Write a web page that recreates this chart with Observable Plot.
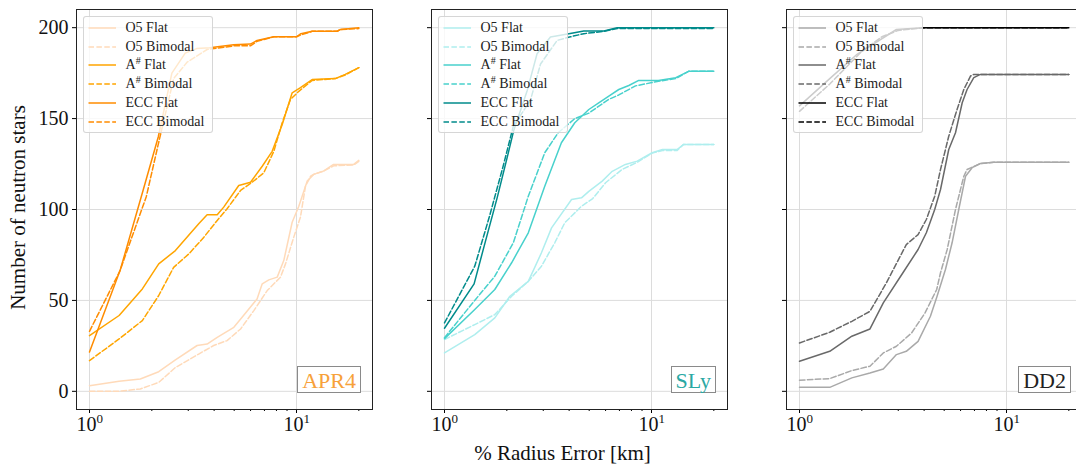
<!DOCTYPE html>
<html><head><meta charset="utf-8">
<script src="https://cdn.jsdelivr.net/npm/d3@7"></script>
<script src="https://cdn.jsdelivr.net/npm/@observablehq/plot@0.6"></script>
<style>
html,body{margin:0;padding:0;background:#fff;overflow:hidden;}
#wrap{position:relative;width:1076px;height:466px;overflow:hidden;font-family:"Liberation Serif","DejaVu Serif","Times New Roman",serif;background:#fff;}
#wrap svg text{font-family:"Liberation Serif","DejaVu Serif","Times New Roman",serif;}
.panel{position:absolute;top:0;}
.legend{position:absolute;width:130px;height:117px;box-sizing:border-box;background:rgba(255,255,255,0.8);border:1px solid rgba(204,204,204,0.8);border-radius:3px;font-size:14px;color:#222;}
.legend .row{position:absolute;left:0;width:128px;height:18px;}
.legend .row svg{position:absolute;left:0;top:0;}
.legend .row span{position:absolute;left:42px;top:0;line-height:18px;white-space:nowrap;}
.legend sup{font-size:10px;vertical-align:0;position:relative;top:-5px;}
.tag{position:absolute;top:366px;height:27px;line-height:28px;padding:0 4px;box-sizing:border-box;border:1px solid #8a8a8a;background:#fff;font-size:22px;white-space:nowrap;}
</style>
</head><body><div id="wrap"></div>
<script>
// ---------- data ----------
const xMajorTicks = [1, 10];
const xMajorExp = ["0", "1"];
const xMinorTicks = [2, 3, 4, 5, 6, 7, 8, 9, 20];
const yTicks = [0, 50, 100, 150, 200];
const eosNames = ["APR4", "SLy", "DD2"];
const seriesNames = ["O5 Flat", "O5 Bimodal", "A# Flat", "A# Bimodal", "ECC Flat", "ECC Bimodal"];
const yLabel = "Number of neutron stars";
const xLabel = "% Radius Error [km]";

// APR4 curves: [radius error %, number of stars]
const apr4_O5_flat = [[1,3.1],[1.39,5.5],[1.76,6.8],[2.16,10.8],[2.6,17.3],[3.31,25.2],[3.7,26],[4.14,29.7],[4.98,35.2],[5.46,40.7],[6.45,50.8],[6.83,59.1],[7.35,61.3],[8.07,62.8],[8.68,71.9],[9.53,93],[10.26,101.8],[11.26,115.6],[12.1,119.3],[13.5,121.1],[15.1,124.8],[18.9,124.8],[20,127]];
const apr4_O5_bimodal = [[1,0],[1.39,0],[1.76,1.3],[2.16,4.9],[2.6,13.1],[3.37,20.5],[3.98,25.2],[4.62,27.9],[5.37,34.3],[6.22,44.4],[7.22,55.4],[8.37,62.8],[8.85,70.1],[9.7,84.8],[10.45,95.8],[11.05,112.8],[11.7,118.3],[12.1,119.3],[13.5,121.1],[15.1,124],[18.9,124.5],[20,126.5]];
const apr4_A_flat = [[1,30.6],[1.39,41.7],[1.8,56.3],[2.16,70.1],[2.6,77.4],[3.37,92.1],[3.7,97.1],[4.14,97.1],[4.45,101.3],[5.26,113.2],[6,115],[6.83,123.8],[7.63,132],[8.53,146.8],[9.53,164.2],[10.45,167],[11.9,171.5],[15.4,172],[17.2,174.3],[20,178]];
const apr4_A_bimodal = [[1,16.9],[1.39,28.8],[1.8,38.9],[2.16,52.7],[2.55,68.2],[3.02,75.6],[3.57,84.8],[4.14,94],[4.62,100.4],[5.37,110.5],[6.11,115],[6.95,120.2],[7.77,132],[8.53,147.7],[9.35,160.5],[10.26,165],[11.9,171],[15.4,172],[17.2,174],[20,178]];
const apr4_ECC_flat = [[1,21.6],[1.41,67],[1.82,111],[2.15,140],[2.5,175],[2.9,186],[3.29,188.5],[3.81,189],[4.97,190.6],[5.99,191],[6.45,193],[7.77,195],[10,195],[10.5,196.7],[11.9,198],[15.7,198],[16.3,199],[20,200]];
const apr4_ECC_bimodal = [[1,33],[1.4,66],[1.88,107],[2.15,136],[2.55,172],[2.96,181],[3.7,188],[4.97,190],[5.99,190],[6.45,192.5],[7.77,195],[10,195],[10.5,196],[11.9,198],[15.7,198],[16.3,199],[20,199.5]];

// SLy curves
const sly_O5_flat = [[1,21.1],[1.4,31.2],[1.75,40.4],[2.07,52.3],[2.54,60.5],[2.94,76.2],[3.29,89.9],[4.11,105.5],[4.59,106.4],[4.98,110],[5.78,115.6],[6.46,121],[7.48,124.8],[8.53,126.6],[10.07,131.2],[11.3,133],[13.3,133],[14.3,135.8],[20,135.8]];
const sly_O5_bimodal = [[1,28.5],[1.4,36.7],[1.75,42.2],[2.11,52.3],[2.54,60.5],[2.94,68.8],[3.41,81.7],[3.81,92.7],[4.59,101.8],[5.2,106],[6,114.7],[7.2,122],[8.53,126],[10.07,131],[11.3,132.5],[13.3,132.5],[14.3,135.8],[20,135.8]];
const sly_A_flat = [[1,29],[1.4,45],[1.75,56],[2.11,70.7],[2.54,87.2],[3.05,112.8],[3.67,136.7],[4.26,147.7],[4.98,155],[5.56,158.7],[6.22,162.4],[6.95,166],[7.77,168.2],[8.68,171],[10.8,171],[13.1,172.5],[15.1,176],[20,176]];
const sly_A_bimodal = [[1,29.5],[1.4,50],[1.75,63.3],[2.15,81.7],[2.54,107.3],[3.05,131.2],[3.54,142.2],[4.26,150],[4.98,153],[6.22,160.6],[6.95,163],[8.37,168],[10.8,170.5],[13.1,172],[15.1,176],[20,176]];
const sly_ECC_flat = [[1,34.7],[1.39,59.1],[1.58,82.9],[1.8,106.8],[2.01,128.8],[2.16,143.5],[2.51,165.5],[2.8,185.7],[3.25,194.9],[3.99,196.7],[4.71,198.2],[5.89,198.2],[6.83,200],[20,200]];
const sly_ECC_bimodal = [[1,37.6],[1.4,68.8],[1.65,96.3],[1.92,123.8],[2.15,145.8],[2.6,160],[2.91,180],[3.5,193],[4.06,195],[4.71,196.7],[5.89,198],[6.83,199.5],[20,199.5]];

// DD2 curves
const dd2_O5_flat = [[1,2.2],[1.4,2.2],[1.79,7.4],[2.19,10.1],[2.54,12.3],[2.94,20.2],[3.28,22],[3.74,27.5],[4.29,41.3],[4.62,52.3],[5.07,67],[5.46,81.7],[5.88,100],[6.34,118.3],[6.82,123],[7.48,125.3],[8.68,126],[20,126]];
const dd2_O5_bimodal = [[1,6.1],[1.4,7],[1.79,11.4],[2.19,13.8],[2.54,21.1],[2.94,24.8],[3.48,32.1],[4.04,43.1],[4.6,56],[4.8,65.2],[5.17,78],[5.67,100],[6.22,118.3],[6.45,122],[7.48,125.3],[8.68,126],[20,126]];
const dd2_A_flat = [[1,16.5],[1.4,22],[1.79,30.3],[2.19,34.3],[2.54,48.6],[3.16,65.2],[3.74,78],[4.1,87.2],[4.5,100],[4.8,111],[5.26,133],[5.67,142.2],[6.11,158.7],[6.45,166],[6.95,172.5],[7.48,174.3],[20,174.3]];
const dd2_A_bimodal = [[1,26.6],[1.4,32.5],[1.79,38.5],[2.19,44],[2.63,59.7],[3.28,80.7],[3.74,86.2],[4.1,94.5],[4.5,107.3],[4.8,122],[5.26,140.3],[5.77,155],[6.22,166],[6.7,173.4],[6.95,174.3],[20,174.3]];
const dd2_ECC_flat = [[1,157],[1.4,172],[1.88,185],[2.94,199],[3.95,200],[20,200]];
const dd2_ECC_bimodal = [[1,154],[1.4,169],[2,187],[2.5,195],[3,198.5],[4,200],[20,200]];

// ---------- styles ----------
const panelCurves = [
  [apr4_O5_flat, apr4_O5_bimodal, apr4_A_flat, apr4_A_bimodal, apr4_ECC_flat, apr4_ECC_bimodal],
  [sly_O5_flat, sly_O5_bimodal, sly_A_flat, sly_A_bimodal, sly_ECC_flat, sly_ECC_bimodal],
  [dd2_O5_flat, dd2_O5_bimodal, dd2_A_flat, dd2_A_bimodal, dd2_ECC_flat, dd2_ECC_bimodal]
];
const panelColors = [
  ["#ffdab9", "#ffdab9", "#ffa500", "#ffa500", "#ff8c00", "#ff8c00"],
  ["#afeeee", "#afeeee", "#48d1cc", "#48d1cc", "#008b8b", "#008b8b"],
  ["#a9a9a9", "#a9a9a9", "#696969", "#696969", "#000000", "#000000"]
];
const tagColors = ["#f7a13a", "#2aa8a3", "#222222"];
const DASH = "5.5,2.4";
const FONT = "'Liberation Serif', 'DejaVu Serif', 'Times New Roman', serif";
const frameLefts = [76, 431, 786];
const FW = 296, TOP = 9, BOTTOM_M = 57, H = 466;
const lo = Math.pow(10, -13 / 207), hi = Math.pow(10, (FW - 13) / 207);

const wrap = document.getElementById("wrap");

for (let i = 0; i < 3; i++) {
  const L = frameLefts[i];
  const mL = i === 0 ? 76 : 10;
  const mR = 10;
  const marks = [
    Plot.gridX(xMajorTicks, {stroke: "#dcdcdc", strokeOpacity: 1, strokeWidth: 1}),
    Plot.gridY(yTicks, {stroke: "#dcdcdc", strokeOpacity: 1, strokeWidth: 1}),
    ...panelCurves[i].map((c, k) => Plot.line(c, {
      x: d => d[0], y: d => d[1], stroke: panelColors[i][k], strokeWidth: 1.5,
      strokeDasharray: k % 2 === 1 ? DASH : null, curve: "linear"
    })),
    Plot.axisX(xMajorTicks, {tickSize: 4, tickFormat: () => "", label: null, stroke: "#000"}),
    Plot.axisX(xMinorTicks, {tickSize: 2, tickFormat: () => "", label: null, stroke: "#000"}),
    Plot.text(xMajorTicks, {x: d => d, frameAnchor: "bottom", text: () => "10", dx: -3, dy: 15, fontSize: 20, fill: "#111", textAnchor: "middle", lineAnchor: "middle", fontFamily: FONT}),
    Plot.text(xMajorTicks, {x: d => d, frameAnchor: "bottom", text: (d, j) => xMajorExp[j], dx: 7, dy: 9.5, fontSize: 13, fill: "#111", textAnchor: "start", lineAnchor: "middle", fontFamily: FONT}),
    Plot.axisY(yTicks, {tickSize: 4, tickPadding: 4, fontSize: 20, label: null, stroke: "#000", fill: "#111", fontFamily: FONT,
      tickFormat: i === 0 ? (d => String(d)) : (() => "")}),
    Plot.frame({stroke: "#222", strokeWidth: 1})
  ];
  if (i === 0) {
    marks.push(Plot.text([yLabel], {text: d => d, frameAnchor: "left", dx: -58, dy: -2, rotate: -90, textAnchor: "middle", lineAnchor: "middle", fontSize: 21, fill: "#111", fontFamily: FONT}));
  }
  if (i === 1) {
    marks.push(Plot.text([xLabel], {text: d => d, frameAnchor: "bottom", dx: -17, dy: 44, textAnchor: "middle", lineAnchor: "middle", fontSize: 21, fill: "#111", fontFamily: FONT}));
  }
  const svg = Plot.plot({
    width: mL + FW + mR, height: H,
    marginLeft: mL, marginRight: mR, marginTop: TOP, marginBottom: BOTTOM_M,
    x: {type: "log", domain: [lo, hi]},
    y: {domain: [-10, 210]},
    style: {fontFamily: FONT, background: "transparent", overflow: "visible", maxWidth: "none"},
    marks
  });
  svg.classList.add("panel");
  svg.style.position = "absolute";
  svg.style.left = (L - mL) + "px";
  svg.style.top = "0px";
  wrap.appendChild(svg);

  // legend (semi-transparent, drawn above the lines)
  const lg = document.createElement("div");
  lg.className = "legend";
  lg.style.left = (L + 6.5) + "px";
  lg.style.top = "16px";
  seriesNames.forEach((name, k) => {
    const row = document.createElement("div");
    row.className = "row";
    row.style.top = (1.7 + 18.8 * k) + "px";
    const dash = k % 2 === 1 ? `stroke-dasharray="${DASH}"` : "";
    row.innerHTML = `<svg width="36" height="18"><line x1="4.5" x2="32" y1="9" y2="9" stroke="${panelColors[i][k]}" stroke-width="1.5" ${dash}/></svg><span>${name.replace("#", "<sup>#</sup>")}</span>`;
    lg.appendChild(row);
  });
  wrap.appendChild(lg);

  // EOS tag box
  const tag = document.createElement("div");
  tag.className = "tag";
  tag.textContent = eosNames[i];
  tag.style.color = tagColors[i];
  tag.style.right = (1076 - (L + FW - 11)) + "px";
  wrap.appendChild(tag);
}
</script>
</body></html>
